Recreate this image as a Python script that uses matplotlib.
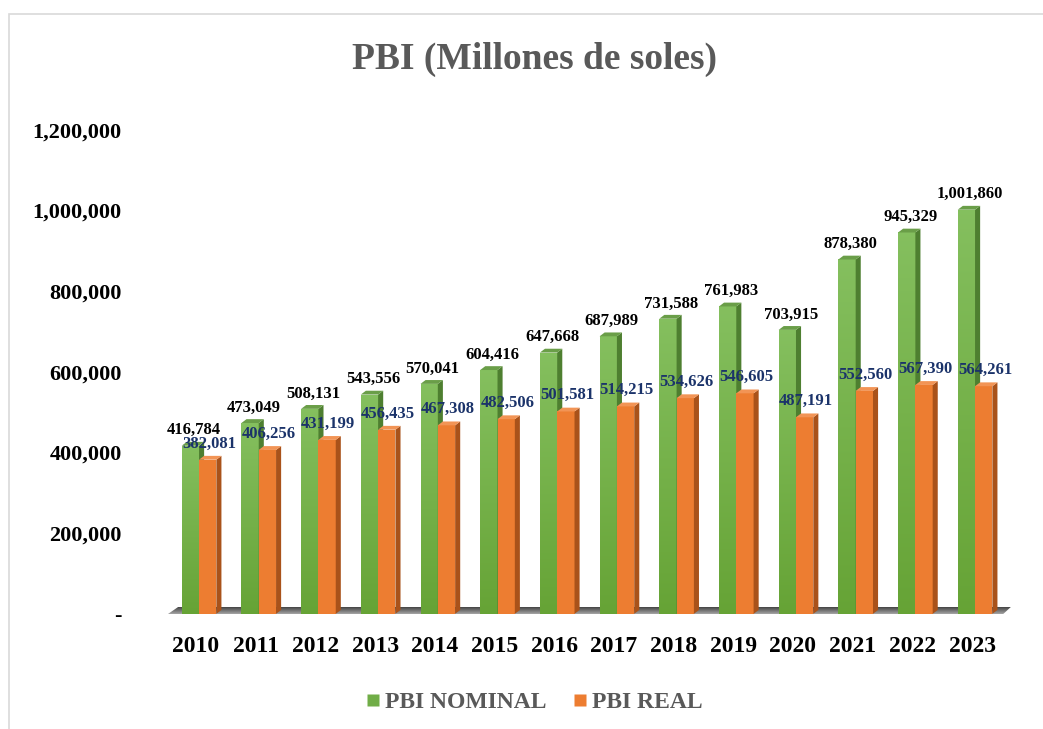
import numpy as np
import matplotlib.pyplot as plt
from matplotlib.patches import Polygon, Rectangle
from matplotlib.lines import Line2D

years = ["2010", "2011", "2012", "2013", "2014", "2015", "2016",
         "2017", "2018", "2019", "2020", "2021", "2022", "2023"]
pbi_nominal = [416784, 473049, 508131, 543556, 570041, 604416, 647668,
               687989, 731588, 761983, 703915, 878380, 945329, 1001860]
pbi_real = [382081, 406256, 431199, 456435, 467308, 482506, 501581,
            514215, 534626, 546605, 487191, 552560, 567390, 564261]
yticks = [0, 200000, 400000, 600000, 800000, 1000000, 1200000]
ytick_labels = ["-", "200,000", "400,000", "600,000", "800,000",
                "1,000,000", "1,200,000"]

plt.rcParams["font.family"] = ["Liberation Serif", "DejaVu Serif"]
plt.rcParams["font.weight"] = "bold"

fig = plt.figure(figsize=(10.43, 7.29), dpi=100)
fig.patches.append(Rectangle((9 / 1043, -0.1), 1.2, 1.1 - 14 / 729,
                             transform=fig.transFigure, fill=False,
                             edgecolor="#d9d9d9", linewidth=1.2))

ax = fig.add_axes([0.1565, 0.158, 0.8127, 0.664])
ax.set_xlim(-0.6, 13.6)
ax.set_ylim(0, 1200000)
for s in ax.spines.values():
    s.set_visible(False)

w = 0.29
dx = 0.085
dy = 9500

green_top = np.array([0.52, 0.75, 0.37])
green_bot = np.array([0.40, 0.64, 0.21])
green_side = "#4e7f30"
orange = "#ed7d31"
orange_side = "#a9521a"
orange_top = "#f29455"

# floor shadow, darker at the back
floor = Polygon([(-0.55, -3500), (13.45, -3500), (13.6, 17000), (-0.35, 17000)],
                closed=True, facecolor="none", edgecolor="none", zorder=1)
ax.add_patch(floor)
grad_floor = np.linspace(0, 1, 50).reshape(-1, 1)
im = ax.imshow(np.repeat(grad_floor, 2, axis=1), extent=(-0.55, 13.6, -3500, 17000),
               origin="lower", cmap="Greys", vmin=-0.9, vmax=1.5, aspect="auto",
               zorder=1, interpolation="bilinear")
im.set_clip_path(floor)


def bar3d(x0, h, face, side, top, gradient=None):
    if gradient is not None:
        rect = Rectangle((x0, 0), w, h, facecolor="none", edgecolor="none", zorder=3)
        ax.add_patch(rect)
        g = np.linspace(0, 1, 100).reshape(-1, 1)
        cols = gradient[1] + (gradient[0] - gradient[1]) * g
        img = np.repeat(cols[:, None, :], 2, axis=1)
        bim = ax.imshow(img, extent=(x0, x0 + w, 0, h), origin="lower",
                        aspect="auto", zorder=3, interpolation="bilinear")
        bim.set_clip_path(rect)
    else:
        ax.add_patch(Rectangle((x0, 0), w, h, facecolor=face,
                               edgecolor="none", zorder=3))
    ax.add_patch(Polygon([(x0 + w, 0), (x0 + w + dx, dy), (x0 + w + dx, h + dy),
                          (x0 + w, h)], closed=True, facecolor=side,
                         edgecolor="none", zorder=3))
    ax.add_patch(Polygon([(x0, h), (x0 + dx, h + dy), (x0 + w + dx, h + dy),
                          (x0 + w, h)], closed=True, facecolor=top,
                         edgecolor="none", zorder=3))


x = np.arange(len(years))
for i in range(len(years)):
    bar3d(x[i] - w, pbi_nominal[i], None, green_side, "#6a9e48",
          gradient=(green_top, green_bot))
    bar3d(x[i], pbi_real[i], orange, orange_side, orange_top)
    ax.text(x[i] - w / 2 + 0.06, pbi_nominal[i] + 38000, f"{pbi_nominal[i]:,}",
            ha="center", va="center", fontsize=12, color="black",
            fontweight="bold", zorder=5)
    ax.text(x[i] + w / 2 + 0.02, pbi_real[i] + 40000, f"{pbi_real[i]:,}",
            ha="center", va="center", fontsize=12, color="#1b336a",
            fontweight="bold", zorder=5)

ax.set_yticks(yticks)
ax.set_yticklabels(ytick_labels, fontsize=16, fontweight="bold")
ax.set_xticks(x - 0.05)
ax.set_xticklabels(years, fontsize=17, fontweight="bold")
ax.tick_params(axis="both", length=0)
ax.tick_params(axis="y", pad=30)
ax.tick_params(axis="x", pad=16)

fig.text(0.512, 0.918, "PBI (Millones de soles)", ha="center", va="center",
         fontsize=27, fontweight="bold", color="#595959")

handles = [Line2D([], [], marker="s", linestyle="none", markersize=9,
                  markerfacecolor="#70ad47", markeredgecolor="none"),
           Line2D([], [], marker="s", linestyle="none", markersize=9,
                  markerfacecolor=orange, markeredgecolor="none")]
fig.legend(handles, ["PBI NOMINAL", "PBI REAL"], loc="center",
           bbox_to_anchor=(0.51, 0.037), ncol=2, frameon=False,
           prop={"size": 17, "weight": "bold"}, labelcolor="#595959",
           handletextpad=0.0, columnspacing=0.9, handlelength=1.0)

fig.savefig("out.png", dpi=100)
